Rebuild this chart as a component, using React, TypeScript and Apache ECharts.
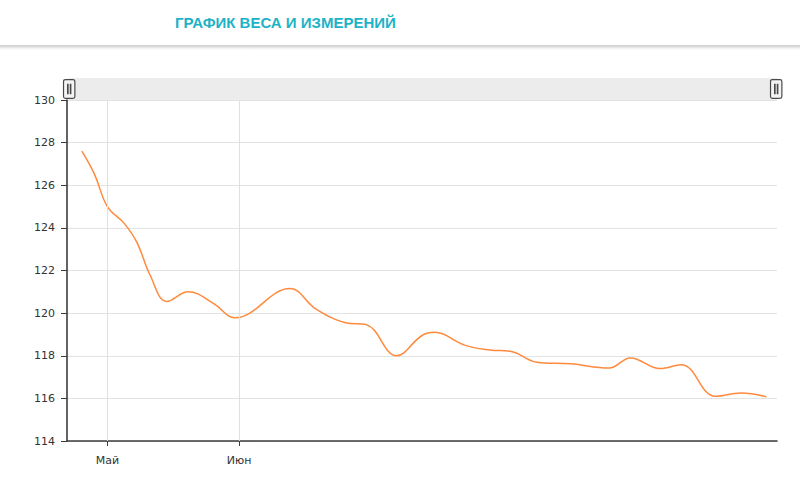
import React, { useEffect, useRef } from "react";
import * as echarts from "echarts";

// ---- data ----
const titleText = "ГРАФИК ВЕСА И ИЗМЕРЕНИЙ";
const axisStart = "2024-04-22";
const axisEnd = "2024-10-05";
const weighDates = [
  "2024-04-25", "2024-04-28", "2024-05-01", "2024-05-05", "2024-05-08", "2024-05-11",
  "2024-05-15", "2024-05-20", "2024-05-26", "2024-05-31", "2024-06-13", "2024-06-19",
  "2024-06-26", "2024-07-01", "2024-07-08", "2024-07-14", "2024-07-17", "2024-07-24",
  "2024-07-30", "2024-08-04", "2024-08-10", "2024-08-18", "2024-08-27", "2024-09-01",
  "2024-09-08", "2024-09-13", "2024-09-21", "2024-09-27", "2024-10-03",
];
const weights = [
  127.6, 126.5, 125.0, 124.2, 123.3, 121.8,
  120.55, 121.0, 120.45, 119.78, 121.15, 120.2,
  119.55, 119.45, 118.0, 118.95, 119.1, 118.5,
  118.27, 118.2, 117.7, 117.62, 117.42, 117.9,
  117.4, 117.58, 116.1, 116.25, 116.08,
];
const monthTickDates = ["2024-05-01", "2024-06-01"];
const monthTickLabels = ["Май", "Июн"];
const yMin = 114;
const yMax = 130;
const yStep = 2;

function buildDays(start: string, end: string): string[] {
  const out: string[] = [];
  const d = new Date(start + "T00:00:00Z");
  const e = new Date(end + "T00:00:00Z");
  while (d.getTime() <= e.getTime()) {
    out.push(d.toISOString().slice(0, 10));
    d.setUTCDate(d.getUTCDate() + 1);
  }
  return out;
}

export default function App() {
  const ref = useRef<HTMLDivElement>(null);
  useEffect(() => {
    if (!ref.current) return;
    const chart = echarts.init(ref.current, undefined, { renderer: "svg", width: 800, height: 481 });
    const days = buildDays(axisStart, axisEnd);
    const labelMap: Record<string, string> = {};
    monthTickDates.forEach((d, i) => (labelMap[d] = monthTickLabels[i]));
    const isMonthTick = (_i: number, v: string) => v in labelMap;
    const axisFont = "Verdana, 'DejaVu Sans', sans-serif";

    chart.setOption({
      animation: false,
      backgroundColor: "#ffffff",
      title: {
        text: titleText,
        left: 175,
        top: 15,
        padding: 0,
        textStyle: {
          color: "#1db3c6",
          fontSize: 15,
          fontWeight: "bold",
          fontFamily: "'Liberation Sans Narrow', 'Arial Narrow', 'Liberation Sans', sans-serif",
        },
      },
      graphic: [
        {
          type: "rect",
          left: 0,
          top: 45,
          shape: { width: 800, height: 6 },
          style: {
            fill: new echarts.graphic.LinearGradient(0, 0, 0, 1, [
              { offset: 0, color: "#cdcdcd" },
              { offset: 0.4, color: "#e6e6e6" },
              { offset: 1, color: "rgba(255,255,255,0)" },
            ]),
          },
          silent: true,
        },
      ],
      grid: { left: 67, right: 23, top: 100, bottom: 40 },
      dataZoom: [
        {
          type: "slider",
          xAxisIndex: 0,
          start: 0,
          end: 100,
          top: 78,
          height: 22,
          left: 67,
          right: 24,
          showDetail: false,
          showDataShadow: false,
          brushSelect: false,
          moveHandleSize: 0,
          backgroundColor: "#ececec",
          borderColor: "transparent",
          fillerColor: "rgba(0,0,0,0)",
          handleIcon:
            "path://M2,0 H10 A2,2 0 0 1 12,2 V18 A2,2 0 0 1 10,20 H2 A2,2 0 0 1 0,18 V2 A2,2 0 0 1 2,0 Z M4.3,5 V15 H4.8 V5 Z M7.2,5 V15 H7.7 V5 Z",
          handleSize: "86%",
          handleStyle: { color: "#f4f4f4", borderColor: "#4a4a4a", borderWidth: 1.2 },
          emphasis: { handleStyle: { color: "#f4f4f4", borderColor: "#4a4a4a" } },
        },
      ],
      xAxis: {
        type: "category",
        data: days,
        boundaryGap: true,
        axisLine: { show: true, lineStyle: { color: "#3c3c3c", width: 1.6 } },
        axisTick: { show: true, interval: isMonthTick, alignWithLabel: true, length: 5, lineStyle: { color: "#3c3c3c" } },
        axisLabel: {
          interval: isMonthTick,
          formatter: (v: string) => labelMap[v] || "",
          color: "#333",
          fontSize: 11,
          fontFamily: axisFont,
          margin: 14,
        },
        splitLine: { show: false },
      },
      yAxis: {
        type: "value",
        min: yMin,
        max: yMax,
        interval: yStep,
        axisLine: { show: true, lineStyle: { color: "#3c3c3c", width: 1.6 } },
        axisTick: { show: true, length: 6, lineStyle: { color: "#3c3c3c" } },
        axisLabel: { color: "#333", fontSize: 11, fontFamily: axisFont, margin: 12 },
        splitLine: { show: true, lineStyle: { color: "#e3e3e3", width: 1 } },
      },
      series: [
        {
          type: "line",
          data: weighDates.map((d, i) => [d, weights[i]]),
          smooth: 0.4,
          showSymbol: false,
          lineStyle: { color: "#ff8a3d", width: 1.5 },
          itemStyle: { color: "#ff8a3d" },
          markLine: {
            silent: true,
            symbol: "none",
            label: { show: false },
            lineStyle: { color: "#e0e0e0", type: "solid", width: 1 },
            data: monthTickDates.map((d) => ({ xAxis: d })),
            animation: false,
          },
        },
      ],
    });
    return () => chart.dispose();
  }, []);
  return (
    <div style={{ position: "fixed", left: 0, top: 0, width: 800, height: 481, background: "#fff" }}>
      <div ref={ref} style={{ width: 800, height: 481 }} />
    </div>
  );
}
